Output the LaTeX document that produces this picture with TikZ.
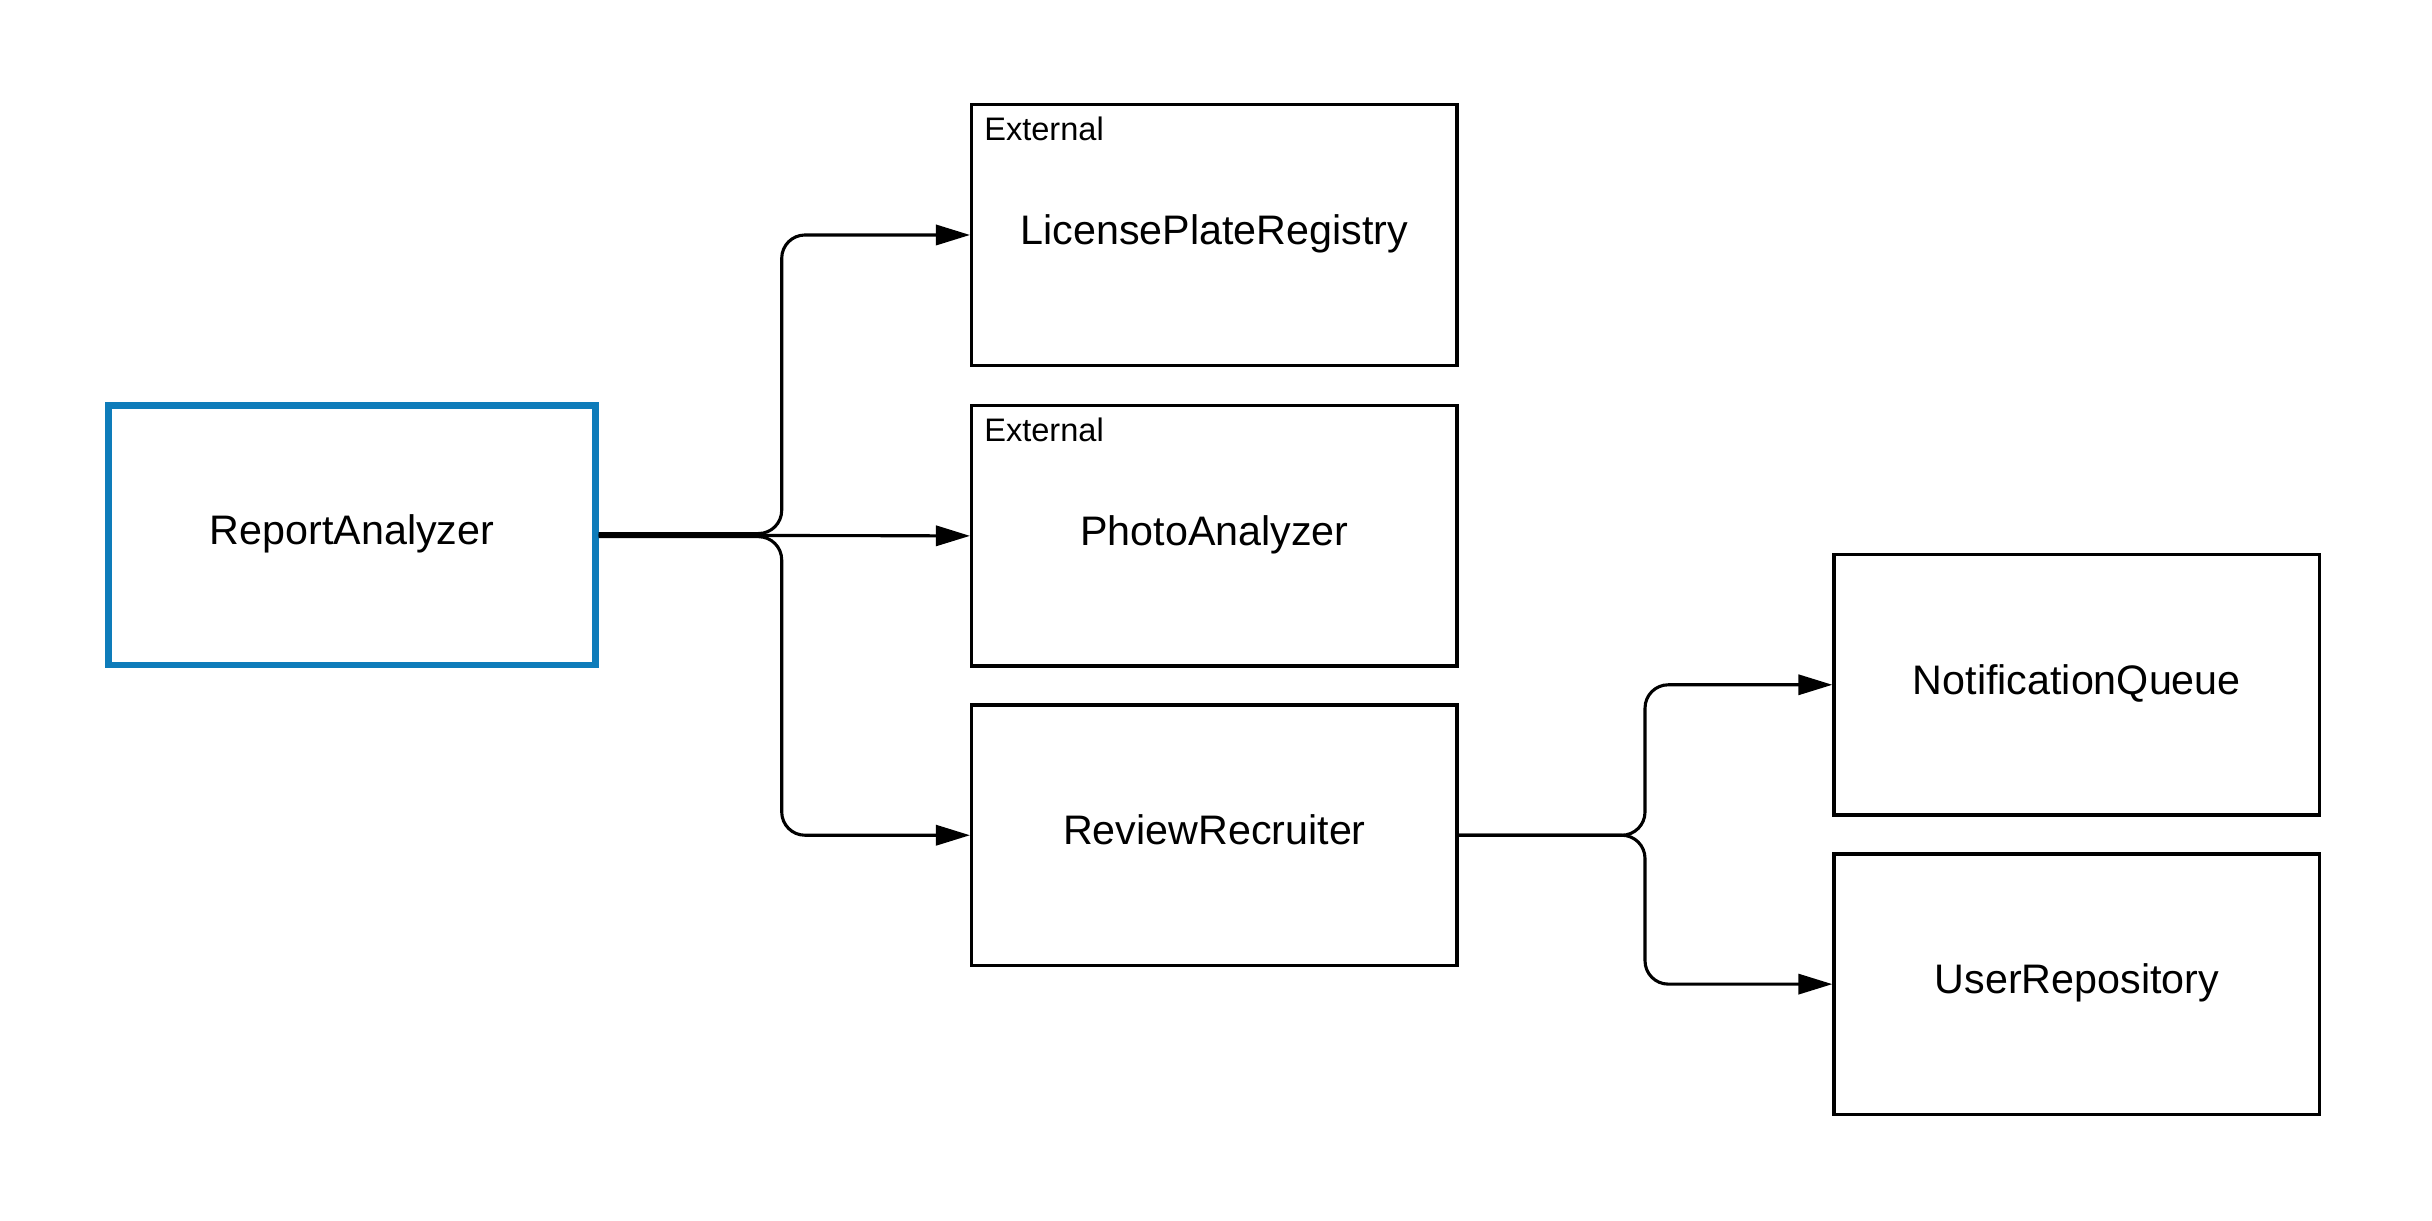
\documentclass[tikz,border=0pt]{standalone}
\usepackage{fontspec}
\setmainfont{Liberation Sans}
\usetikzlibrary{arrows.meta}
\definecolor{raBlue}{RGB}{14,124,186}
\begin{document}
\begin{tikzpicture}[x=1pt,y=-1pt,
  box/.style={draw=black, line width=2.2pt, minimum width=313pt, minimum height=168pt, inner sep=0pt, fill=white, text height=19pt, text depth=7pt, font=\fontsize{26.6}{32}\selectfont},
  conn/.style={line width=2pt, rounded corners=15pt, -{Triangle[length=22pt,width=13pt]}},
  ext/.style={anchor=north west, inner sep=0pt, font=\fontsize{21}{25}\selectfont}]
\useasboundingbox (0,0) rectangle (1568,787);
\node[box, draw=raBlue, line width=4pt, minimum width=314pt, minimum height=167pt] (ra) at (227,345) {ReportAnalyzer};
\node[box] (lpr) at (783,151.5) {LicensePlateRegistry};
\node[box] (pa) at (783,345.5) {PhotoAnalyzer};
\node[box] (rr) at (783,538.5) {ReviewRecruiter};
\node[box] (nq) at (1339,441.5) {NotificationQueue};
\node[box] (ur) at (1339,634.5) {UserRepository};
\node[ext] (lprx) at ([xshift=9pt,yshift=-9pt]lpr.north west) {External};
\node[ext] (pax) at ([xshift=9pt,yshift=-9pt]pa.north west) {External};
\draw[conn] ([yshift=1pt]ra.east) -- ++(118,0) |- (lpr.west);
\draw[conn] (ra.east) -- (pa.west);
\draw[conn] ([yshift=-1pt]ra.east) -- ++(118,0) |- (rr.west);
\draw[conn] (rr.east) -- ++(120,0) |- (nq.west);
\draw[conn] (rr.east) -- ++(120,0) |- (ur.west);
\end{tikzpicture}
\end{document}
